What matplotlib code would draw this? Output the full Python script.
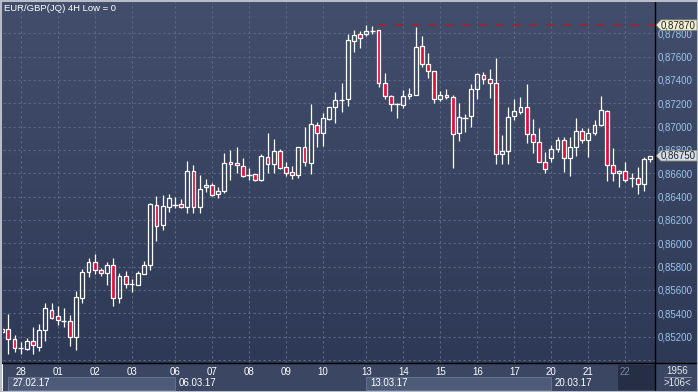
import matplotlib.pyplot as plt
from matplotlib.patches import Rectangle, Polygon
from matplotlib.colors import LinearSegmentedColormap
import numpy as np

plt.rcParams['font.family'] = ['Liberation Sans', 'DejaVu Sans']

# EUR/GBP 4H candles
opens = [0.85240, 0.85263, 0.85178, 0.85106, 0.85094, 0.85163, 0.85114, 0.85260, 0.85426, 0.85377,
         0.85337, 0.85332, 0.85200, 0.85534, 0.85752, 0.85837, 0.85769, 0.85748, 0.85812, 0.85534,
         0.85717, 0.85654, 0.85646, 0.85740, 0.85817, 0.86326, 0.86160, 0.86314, 0.86331, 0.86337,
         0.86314, 0.86617, 0.86309, 0.86480, 0.86497, 0.86420, 0.86451, 0.86694, 0.86686, 0.86660,
         0.86588, 0.86592, 0.86545, 0.86737, 0.86682, 0.86789, 0.86652, 0.86609, 0.86583, 0.86823,
         0.86691, 0.87012, 0.86943, 0.87068, 0.87166, 0.87228, 0.87234, 0.87737, 0.87791, 0.87791,
         0.87822, 0.87826, 0.87371, 0.87260, 0.87192, 0.87183, 0.87260, 0.87269, 0.87689, 0.87534,
         0.87474, 0.87234, 0.87269, 0.87252, 0.86943, 0.87074, 0.87089, 0.87320, 0.87440, 0.87406,
         0.87374, 0.86763, 0.86789, 0.87089, 0.87128, 0.87166, 0.86934, 0.86866, 0.86694, 0.86729,
         0.86811, 0.86883, 0.86729, 0.86823, 0.86960, 0.86883, 0.86943, 0.87012, 0.87132, 0.86669,
         0.86600, 0.86617, 0.86557, 0.86557, 0.86511, 0.86720]
highs = [0.85283, 0.85394, 0.85214, 0.85152, 0.85191, 0.85283, 0.85309, 0.85486, 0.85486, 0.85463,
         0.85446, 0.85386, 0.85594, 0.85780, 0.85877, 0.85909, 0.85791, 0.85837, 0.85874, 0.85746,
         0.85763, 0.85694, 0.85763, 0.85849, 0.86348, 0.86406, 0.86414, 0.86423, 0.86400, 0.86380,
         0.86706, 0.86671, 0.86586, 0.86551, 0.86514, 0.86483, 0.86774, 0.86800, 0.86826, 0.86731,
         0.86646, 0.86592, 0.86766, 0.86946, 0.86894, 0.86808, 0.86697, 0.86663, 0.86823, 0.87000,
         0.87194, 0.87037, 0.87120, 0.87166, 0.87294, 0.87371, 0.87794, 0.87828, 0.87820, 0.87870,
         0.87863, 0.87826, 0.87457, 0.87271, 0.87200, 0.87314, 0.87334, 0.87851, 0.87777, 0.87629,
         0.87474, 0.87303, 0.87323, 0.87269, 0.87200, 0.87108, 0.87363, 0.87457, 0.87466, 0.87494,
         0.87588, 0.86928, 0.87168, 0.87237, 0.87254, 0.87368, 0.87063, 0.86988, 0.86785, 0.86843,
         0.86909, 0.86909, 0.86909, 0.87072, 0.86988, 0.86988, 0.87054, 0.87263, 0.87140, 0.86814,
         0.86626, 0.86694, 0.86600, 0.86652, 0.86737, 0.86750]
lows = [0.85223, 0.85052, 0.85066, 0.85049, 0.85086, 0.85054, 0.85077, 0.85166, 0.85352, 0.85300,
        0.85286, 0.85123, 0.85086, 0.85491, 0.85711, 0.85740, 0.85720, 0.85643, 0.85466, 0.85489,
        0.85620, 0.85586, 0.85643, 0.85735, 0.85771, 0.86023, 0.86114, 0.86271, 0.86300, 0.86300,
        0.86257, 0.86257, 0.86263, 0.86443, 0.86403, 0.86386, 0.86434, 0.86543, 0.86605, 0.86568,
        0.86543, 0.86537, 0.86537, 0.86605, 0.86605, 0.86640, 0.86580, 0.86554, 0.86557, 0.86665,
        0.86594, 0.86828, 0.86837, 0.87054, 0.87034, 0.87128, 0.87180, 0.87637, 0.87677, 0.87774,
        0.87794, 0.87342, 0.87237, 0.87134, 0.87077, 0.87162, 0.87234, 0.87269, 0.87514, 0.87414,
        0.87205, 0.87220, 0.87234, 0.86643, 0.86877, 0.86957, 0.87000, 0.87234, 0.87365, 0.87243,
        0.86682, 0.86682, 0.86682, 0.87057, 0.87111, 0.86862, 0.86777, 0.86694, 0.86600, 0.86694,
        0.86785, 0.86614, 0.86580, 0.86751, 0.86857, 0.86742, 0.86926, 0.87003, 0.86537, 0.86537,
        0.86485, 0.86528, 0.86485, 0.86425, 0.86451, 0.86694]
closes = [0.85266, 0.85178, 0.85100, 0.85106, 0.85163, 0.85126, 0.85255, 0.85443, 0.85363, 0.85340,
          0.85337, 0.85195, 0.85540, 0.85752, 0.85837, 0.85774, 0.85743, 0.85812, 0.85534, 0.85717,
          0.85654, 0.85654, 0.85743, 0.85812, 0.86335, 0.86151, 0.86320, 0.86386, 0.86331, 0.86309,
          0.86617, 0.86309, 0.86463, 0.86500, 0.86417, 0.86446, 0.86686, 0.86677, 0.86669, 0.86580,
          0.86588, 0.86545, 0.86746, 0.86682, 0.86789, 0.86648, 0.86605, 0.86588, 0.86823, 0.86694,
          0.87020, 0.86943, 0.87072, 0.87166, 0.87226, 0.87228, 0.87740, 0.87783, 0.87757, 0.87817,
          0.87822, 0.87371, 0.87260, 0.87192, 0.87192, 0.87260, 0.87277, 0.87680, 0.87534, 0.87474,
          0.87234, 0.87269, 0.87254, 0.86934, 0.87080, 0.87074, 0.87320, 0.87449, 0.87406, 0.87371,
          0.86763, 0.86789, 0.87080, 0.87132, 0.87166, 0.86934, 0.86866, 0.86694, 0.86634, 0.86806,
          0.86883, 0.86729, 0.86823, 0.86960, 0.86883, 0.86943, 0.87012, 0.87140, 0.86669, 0.86600,
          0.86617, 0.86540, 0.86557, 0.86511, 0.86720, 0.86750]

# first candle of every day / week
day_labels = ['28', '01', '02', '03', '06', '07', '08', '09', '10',
              '13', '14', '15', '16', '17', '20', '21', '22']
day_starts = [3, 9, 15, 21, 28, 34, 40, 46, 52, 59, 65, 71, 77, 83, 89, 95, 101]
week_labels = ['27.02.17', '06.03.17', '13.03.17', '20.03.17']
week_starts = [1, 28, 59, 89]

price_ticks = np.arange(0.852, 0.8781, 0.002)
grid_levels = np.arange(0.850, 0.8781, 0.002)

W, H = 698, 392
RED = '#e0103c'
GRID = '#5b6987'

def fx(px):
    return px / W

def fy(py):
    return 1 - py / H

def fmt(v):
    return ('%.5f' % v).replace('.', ',')

fig = plt.figure(figsize=(W / 100, H / 100), dpi=100)

# background gradient
bg = fig.add_axes([0, 0, 1, 1])
bg.axis('off')
cmap = LinearSegmentedColormap.from_list('bg', ['#424e6b', '#2e3956'])
bg.imshow(np.linspace(0, 1, 256).reshape(-1, 1), aspect='auto', cmap=cmap,
          extent=[0, 1, fy(363), 1])
bg.set_xlim(0, 1)
bg.set_ylim(0, 1)

ax = fig.add_axes([fx(3), fy(363), fx(655) - fx(3), fy(2) - fy(363)])
ax.patch.set_alpha(0)
for s in ax.spines.values():
    s.set_visible(False)
ax.set_xlim(0.13, 105.8)
ax.set_ylim(0.84974, 0.88068)

ax.hlines(grid_levels, 0.13, 105.8, colors=GRID, lw=0.8, linestyles=(0, (2, 2.5)), zorder=0)
ax.vlines(day_starts, 0.84974, 0.88068, colors=GRID, lw=0.8, linestyles=(0, (2, 2.5)), zorder=0)

# candles
bw = 0.62
for i in range(len(opens)):
    o, h, l, c = opens[i], highs[i], lows[i], closes[i]
    top, bot = max(o, c), min(o, c)
    ax.vlines(i, top, h, colors='white', lw=0.9, zorder=2)
    ax.vlines(i, l, bot, colors='white', lw=0.9, zorder=2)
    if abs(c - o) < 0.00001:
        ax.hlines(o, i - 0.42, i + 0.42, colors='white', lw=1.0, zorder=3)
    else:
        fc = RED if c < o else 'none'
        ax.add_patch(Rectangle((i - bw / 2, bot), bw, top - bot, facecolor=fc,
                               edgecolor='white', lw=0.9, zorder=3))

# highest high line
hi = int(np.argmax(highs))
ax.hlines(highs[hi], hi + 1.9, 105.8, colors='#a8202e', lw=1.1,
          linestyles=(0, (5.5, 5.5)), zorder=1)

ax.yaxis.tick_right()
ax.set_yticks(price_ticks)
ax.set_yticklabels([fmt(v) for v in price_ticks])
ax.tick_params(axis='y', length=0, pad=2.2, labelsize=7, labelcolor='#9cc4ee')
ax.set_xticks([])

# price tags on the right axis
def tag(price, face):
    yd = ax.transData.transform((0, price))[1]
    yf = fig.transFigure.inverted().transform((0, yd))[1]
    dy = 5.2 / H
    pts = [(fx(656), yf), (fx(661), yf + dy), (fx(697), yf + dy),
           (fx(697), yf - dy), (fx(661), yf - dy)]
    fig.patches.append(Polygon(pts, closed=True, facecolor=face, edgecolor='#8a8f80',
                               lw=0.6, transform=fig.transFigure, zorder=5))
    fig.text(fx(678.5), yf, fmt(price), ha='center', va='center',
             fontsize=7, color='#202428', zorder=6)

tag(highs[hi], '#f2f0d0')
tag(closes[-1], '#d6dde8')

# bottom date band
band = fig.add_axes([fx(3), 0, fx(655) - fx(3), fy(363)])
band.set_facecolor('#3a4662')
for s in band.spines.values():
    s.set_visible(False)
band.set_xticks([])
band.set_yticks([])
band.set_xlim(0.13, 105.8)
band.set_ylim(392, 363)

band.add_patch(Rectangle((day_starts[-1] - 1.2, 365), 10, 25, facecolor='#262e46',
                         edgecolor='none', zorder=1))
for k, lab in enumerate(day_labels):
    col = '#7d8aa6' if k == len(day_labels) - 1 else 'white'
    band.text(day_starts[k], 371.7, lab, ha='center', va='center', fontsize=7,
              color=col, zorder=3)

week_ends = week_starts[1:] + [105.8]
for k, lab in enumerate(week_labels):
    if k % 2 == 0:
        band.add_patch(Rectangle((week_starts[k], 377.3), week_ends[k] - week_starts[k], 12.7,
                                 facecolor='#4d5b78', edgecolor='#66748f', lw=0.7, zorder=2))
    band.text(week_starts[k] + 0.6, 383.3, lab, ha='left', va='center', fontsize=7,
              color='white', zorder=3)

# right bottom corner
fig.patches.append(Rectangle((fx(655), 0), 1 - fx(655), fy(363), facecolor='#3a4662',
                             transform=fig.transFigure, zorder=1))
fig.text(fx(677), fy(371), '1956', ha='center', va='center', fontsize=7, color='#e4e8f0')
fig.text(fx(677), fy(383.5), '>106<', ha='center', va='center', fontsize=7, color='#e4e8f0')
fig.lines.append(plt.Line2D([fx(664), fx(691)], [fy(377.3), fy(377.3)], color='#8d98b0',
                            lw=0.6, transform=fig.transFigure))

# separators and frame
fig.lines.append(plt.Line2D([fx(655), fx(655)], [0, 1], color='black', lw=1.0,
                            transform=fig.transFigure, zorder=8))
fig.lines.append(plt.Line2D([0, 1], [fy(363), fy(363)], color='black', lw=1.0,
                            transform=fig.transFigure, zorder=8))
fig.patches.append(Rectangle((0, 0), 1, 1, facecolor='none', edgecolor='#b7bcc8', lw=2.2,
                             transform=fig.transFigure, zorder=9))

fig.text(fx(4), fy(8.5), 'EUR/GBP(JQ) 4H Low = 0', ha='left', va='center',
         fontsize=6.8, color='white')

plt.savefig('out.png', dpi=100)
